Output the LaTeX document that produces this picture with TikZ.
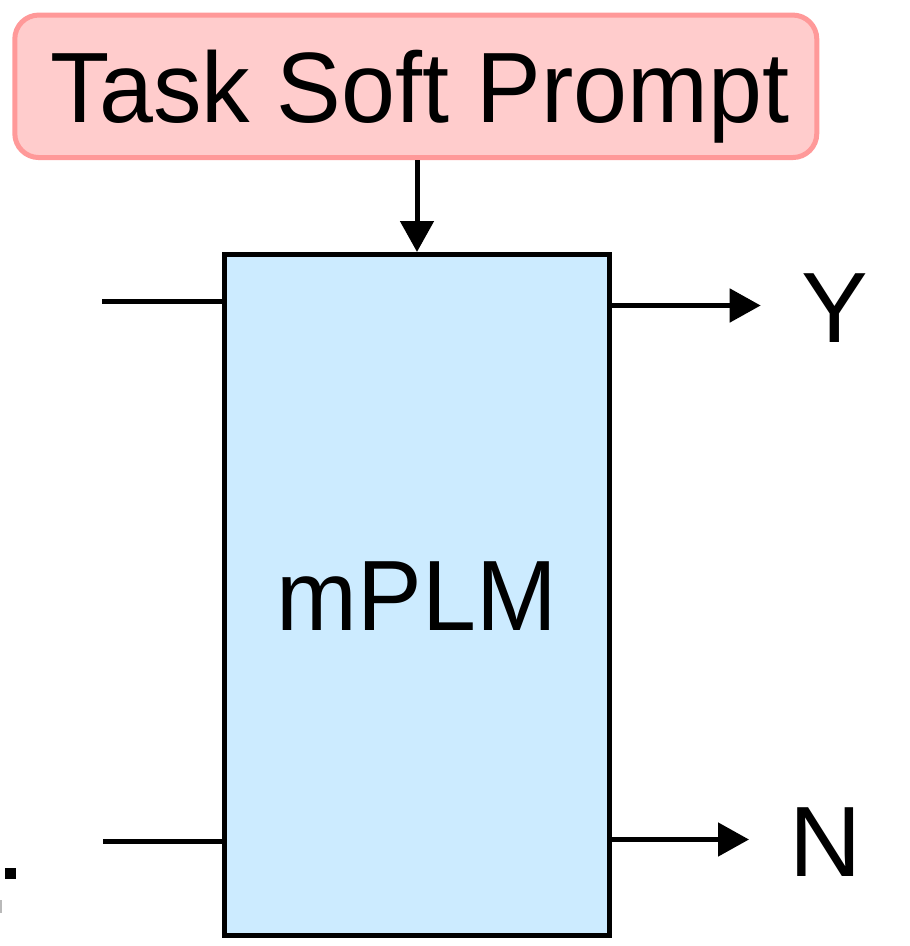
\documentclass[tikz,border=0pt]{standalone}
\usepackage{fontspec}
\setmainfont{Liberation Sans}
\usetikzlibrary{arrows.meta}
\definecolor{promptfill}{RGB}{255,204,204}
\definecolor{promptdraw}{RGB}{255,153,153}
\definecolor{modelfill}{RGB}{204,235,255}
\newcommand{\narrow}[1]{\scalebox{0.97}[1]{#1}}
\tikzset{
  bigtext/.style={font=\fontsize{100pt}{120pt}\selectfont},
  capsbox/.style={text height=71.6pt, text depth=0pt, inner sep=0pt},
  promptbox/.style={bigtext, capsbox, draw=promptdraw, fill=promptfill,
    line width=5pt, rounded corners=24pt,
    minimum width=802pt, minimum height=142.5pt},
  modelbox/.style={bigtext, capsbox, draw=black, fill=modelfill,
    line width=5pt, minimum width=385pt, minimum height=681pt},
  wire/.style={line width=5pt},
  flow/.style={line width=5pt, -{Triangle[length=31pt,width=33pt]}},
  outlabel/.style={bigtext, anchor=base, inner sep=0pt}
}
\begin{document}
\begin{tikzpicture}[x=1pt, y=-1pt]
  \useasboundingbox (0,0) rectangle (910,946);

  % task prompt and model
  \node[promptbox] (prompt) at (415.8,86.3) {\hspace*{8pt}\narrow{Task Soft Prompt}};
  \node[modelbox] (mplm) at (417,595) {\narrow{mPLM}};

  % prompt feeds the model from above
  \draw[flow] (prompt.south -| mplm.north) -- (mplm.north);

  % inputs entering on the left
  \coordinate (intop) at (102,301);
  \coordinate (inbot) at (103,841.5);
  \draw[wire] (intop) -- (intop -| mplm.west);
  \draw[wire] (inbot) -- (inbot -| mplm.west);

  % outputs leaving on the right
  \coordinate (ytip) at (760.7,305.5);
  \coordinate (ntip) at (749,839.5);
  \draw[flow] (ytip -| mplm.east) -- (ytip);
  \draw[flow] (ntip -| mplm.east) -- (ntip);
  \node[outlabel] (ylab) at (834.5,342) {Y};
  \node[outlabel] (nlab) at (826,876) {N};

  % clipped mark at the lower left edge
  \fill (5,868) rectangle (16,879);
  \fill[gray!55] (0,900) rectangle (1.5,913);
\end{tikzpicture}
\end{document}
